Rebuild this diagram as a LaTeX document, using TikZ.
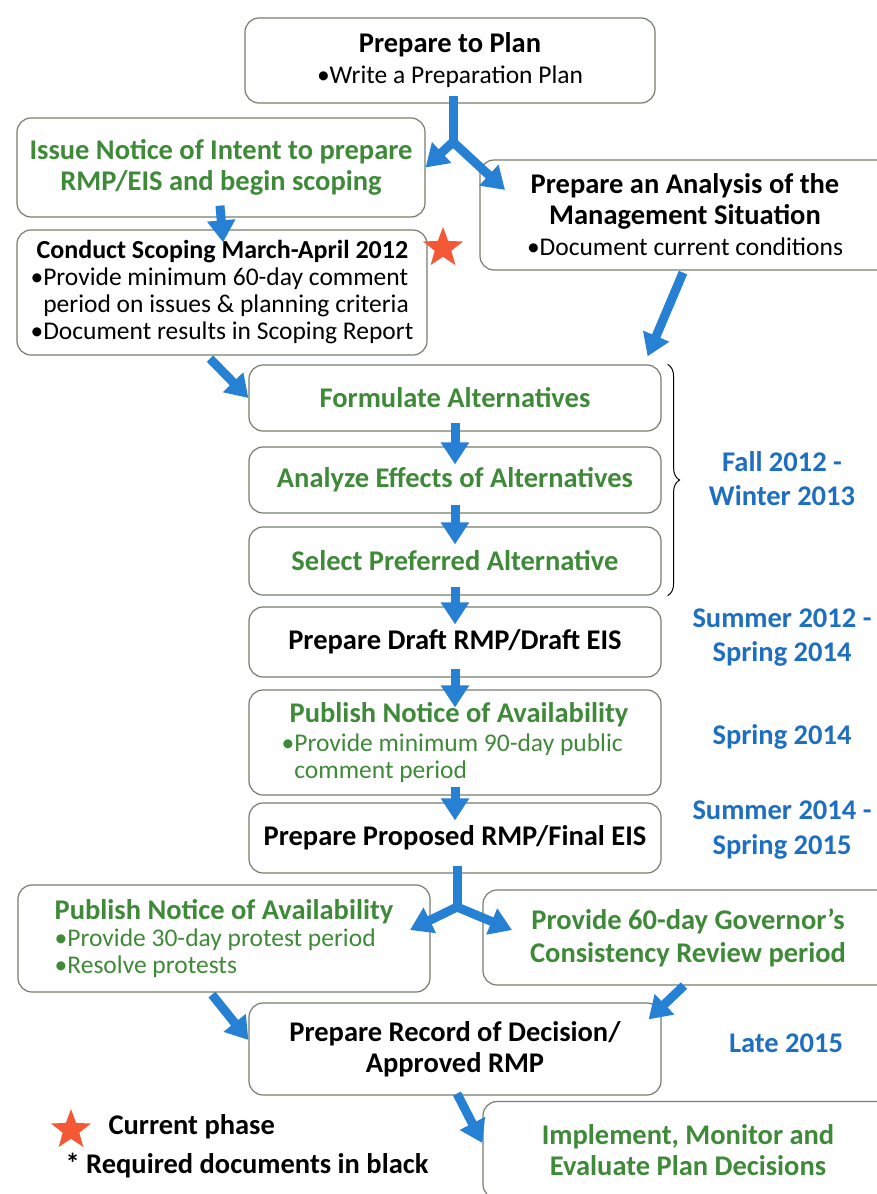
\documentclass[tikz,border=0pt]{standalone}
\usepackage{fontspec}
\setmainfont{Carlito}
\usetikzlibrary{arrows.meta,shapes.geometric,decorations.pathreplacing}

\definecolor{boxgray}{RGB}{118,126,112}
\definecolor{stepgreen}{RGB}{62,138,56}
\definecolor{flowblue}{RGB}{38,128,212}
\definecolor{dateblue}{RGB}{30,110,194}
\definecolor{starred}{RGB}{244,88,52}

\newcommand{\hdfont}{\fontsize{28.5}{31}\selectfont\bfseries}
\newcommand{\bdfont}{\fontsize{25.5}{27}\selectfont\mdseries}

\begin{document}
\begin{tikzpicture}[x=1pt,y=-1pt,
    box/.style={draw=boxgray, line width=1.2pt, rounded corners=14pt, fill=white,
        minimum width=412pt, align=center, inner sep=3pt},
    greenbox/.style={box, text=stepgreen},
    flow/.style={draw=flowblue, line width=9pt, line join=miter},
    datelabel/.style={text=dateblue, font=\hdfont, align=center},
    phasestar/.style={star, star points=5, star point ratio=2.4, fill=starred,
        draw=none, minimum size=42pt, inner sep=0pt},
    >={Triangle[width=27pt,length=22pt]}]
    \useasboundingbox (0,0) rectangle (876,1194);

    % planning boxes, top part
    \node[box, minimum width=410pt, minimum height=85pt, font=\hdfont] (plan) at (450,60.5)
        {Prepare to Plan\\{\bdfont •Write a Preparation Plan}};
    \node[greenbox, minimum width=408pt, minimum height=99pt, font=\hdfont] (noi) at (221,167.5)
        {Issue Notice of Intent to prepare\\RMP/EIS and begin scoping};
    \node[box, minimum width=410pt, minimum height=110pt, font=\hdfont] (ams) at (685,215)
        {Prepare an Analysis of the\\Management Situation\\{\bdfont •Document current conditions}};
    \node[box, minimum width=410pt, minimum height=125pt, align=left, font=\bdfont] (scope) at (222,292.5)
        {\hspace*{6pt}{\fontsize{26}{27}\selectfont\bfseries Conduct Scoping March-April 2012}\\
         •Provide minimum 60-day comment\\
         \phantom{•}period on issues \& planning criteria\\
         •Document results in Scoping Report};
    \node[phasestar] (scopestar) at (443,248) {};

    % alternatives
    \node[greenbox, minimum height=66pt, font=\hdfont] (form) at (455,398) {Formulate Alternatives};
    \node[greenbox, minimum height=66pt, font=\hdfont] (effects) at (455,480) {Analyze Effects of Alternatives};
    \node[greenbox, minimum height=68pt, font=\hdfont] (select) at (455,561) {Select Preferred Alternative};

    % draft and final
    \node[box, minimum height=70pt, font=\hdfont] (draft) at (455,642) {Prepare Draft RMP/Draft EIS};
    \node[greenbox, minimum height=105pt, align=left, font=\bdfont] (noa) at (455,742.5)
        {\hspace*{8pt}{\hdfont Publish Notice of Availability}\\[2pt]
         •Provide minimum 90-day public\\
         \phantom{•}comment period};
    \node[box, minimum height=70pt, font=\hdfont] (final) at (455,838) {Prepare Proposed RMP/Final EIS};

    % protest and governor review
    \node[greenbox, minimum height=107pt, align=left, font=\bdfont] (noa2) at (224,938.5)
        {{\hdfont Publish Notice of Availability}\\
         •Provide 30-day protest period\\
         •Resolve protests};
    \node[greenbox, minimum width=410pt, minimum height=95pt, font=\hdfont] (gov) at (688,937.5)
        {Provide 60-day Governor’s\\[2pt]Consistency Review period};
    \node[box, minimum height=92pt, font=\hdfont] (rod) at (455,1049)
        {Prepare Record of Decision/\\Approved RMP};
    \node[greenbox, minimum width=410pt, minimum height=97pt, font=\hdfont] (impl) at (688,1150)
        {Implement, Monitor and\\Evaluate Plan Decisions};

    % dates
    \draw[decorate, decoration={brace, amplitude=12pt}, line width=1pt]
        ([xshift=6pt]form.north east) -- ([xshift=6pt]select.south east);
    \node[datelabel] (altdate) at (782,479) {Fall 2012 -\\[3pt]Winter 2013};
    \node[datelabel] (draftdate) at (782,638) {Summer 2012 -\\[3pt]Spring 2014};
    \node[datelabel] (noadate) at (782,737) {Spring 2014};
    \node[datelabel] (finaldate) at (782,830) {Summer 2014 -\\[4pt]Spring 2015};
    \node[datelabel] (roddate) at (786,1043) {Late 2015};

    % legend
    \node[phasestar] (legstar) at (71,1130) {};
    \node[anchor=west, font=\hdfont] (legcur) at (105,1127) {Current phase};
    \node[anchor=west, font=\hdfont] (legreq) at (62,1166) {* Required documents in black};

    % arrows
    \coordinate (split1) at (453,142);
    \coordinate (amsin) at (505,190);
    \draw[flow] ([shift={(3,-8)}]plan.south) -- (split1);
    \draw[flow, <->] (noi.east) -- (split1) -- (amsin);
    \draw[flow, ->, shorten <=-12pt, shorten >=-13pt] (noi.south) -- (scope.north);
    \draw[flow, ->] ([shift={(-12,3)}]scope.south) -- (form.west);
    \draw[flow, ->] ([shift={(-2,2)}]ams.south) -- ([shift={(-14,-8)}]form.north east);
    \foreach \a/\b in {form/effects, effects/select, select/draft, draft/noa, noa/final}
        \draw[flow, ->, shorten <=-9pt, shorten >=-18pt] (\a.south) -- (\b.north);

    \coordinate (split2) at (457,907);
    \coordinate (noa2in) at (410,930);
    \coordinate (govin) at (512,930);
    \draw[flow] ([shift={(2,-8)}]final.south) -- (split2);
    \draw[flow, <->] (noa2in) -- (split2) -- (govin);
    \draw[flow, ->] ([shift={(-12,2)}]noa2.south) -- ([shift={(0,-9)}]rod.west);
    \draw[flow, ->] ([shift={(-4,0)}]gov.south) -- ([shift={(-13,17)}]rod.north east);
    \draw[flow, ->] ([shift={(2,-2)}]rod.south) -- ([shift={(0,-7)}]impl.west);
\end{tikzpicture}
\end{document}
